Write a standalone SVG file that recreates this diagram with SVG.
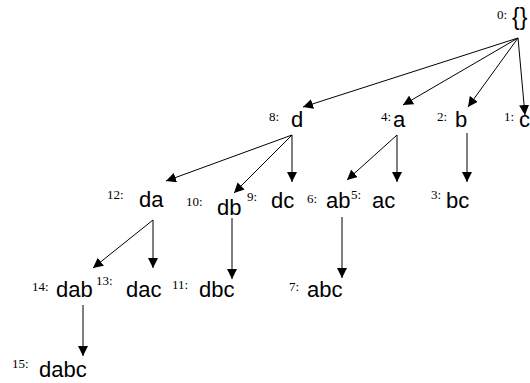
<svg xmlns="http://www.w3.org/2000/svg" width="530" height="383" viewBox="0 0 530 383">
<style>
.n{font-family:"Liberation Sans",Arial,sans-serif;font-size:22px;fill:#000}
.k{font-family:"Liberation Serif","Times New Roman",serif;font-size:13px;fill:#000}
.e{stroke:#000;stroke-width:1;fill:none;marker-end:url(#ah)}
</style>
<defs>
<marker id="ah" viewBox="0 0 10 10" refX="10" refY="5" markerWidth="10" markerHeight="10" markerUnits="userSpaceOnUse" orient="auto">
<path d="M0,0 L10,5 L0,10 z" fill="#000"/>
</marker>
</defs>
<rect width="530" height="383" fill="#fff"/>
<g id="edges">
<line class="e" x1="518" y1="38" x2="303" y2="107"/>
<line class="e" x1="518" y1="38" x2="403" y2="105"/>
<line class="e" x1="518" y1="38" x2="468" y2="107"/>
<line class="e" x1="518" y1="38" x2="525" y2="115"/>
<line class="e" x1="292" y1="135" x2="166" y2="181"/>
<line class="e" x1="292" y1="135" x2="234" y2="193"/>
<line class="e" x1="292" y1="135" x2="292" y2="182"/>
<line class="e" x1="397" y1="135" x2="347" y2="180"/>
<line class="e" x1="397" y1="135" x2="397" y2="182"/>
<line class="e" x1="467" y1="133" x2="467" y2="182"/>
<line class="e" x1="153" y1="220" x2="93" y2="268"/>
<line class="e" x1="153" y1="220" x2="153" y2="268"/>
<line class="e" x1="232" y1="218" x2="232" y2="279"/>
<line class="e" x1="342" y1="217" x2="342" y2="278"/>
<line class="e" x1="83" y1="305" x2="83" y2="356"/>
</g>
<g id="n0"><text class="k" x="497" y="19">0:</text><text class="n" x="512" y="25" style="font-size:23px">{}</text></g>
<g id="n8"><text class="k" x="269" y="121">8:</text><text class="n" x="291" y="127">d</text></g>
<g id="n4"><text class="k" x="381" y="121">4:</text><text class="n" x="393" y="127">a</text></g>
<g id="n2"><text class="k" x="437" y="121">2:</text><text class="n" x="455" y="127">b</text></g>
<g id="n1"><text class="k" x="504" y="121">1:</text><text class="n" x="519" y="127">c</text></g>
<g id="n12"><text class="k" x="107" y="199">12:</text><text class="n" x="139" y="207">da</text></g>
<g id="n10"><text class="k" x="186" y="206">10:</text><text class="n" x="217" y="215">db</text></g>
<g id="n9"><text class="k" x="247" y="201">9:</text><text class="n" x="271" y="208">dc</text></g>
<g id="n6"><text class="k" x="307" y="203">6:</text><text class="n" x="326" y="208">ab</text></g>
<g id="n5"><text class="k" x="351" y="199">5:</text><text class="n" x="372" y="208">ac</text></g>
<g id="n3"><text class="k" x="431" y="199">3:</text><text class="n" x="446" y="208">bc</text></g>
<g id="n14"><text class="k" x="32" y="291">14:</text><text class="n" x="56" y="297">dab</text></g>
<g id="n13"><text class="k" x="96" y="285">13:</text><text class="n" x="126" y="297">dac</text></g>
<g id="n11"><text class="k" x="172" y="289">11:</text><text class="n" x="199" y="297">dbc</text></g>
<g id="n7"><text class="k" x="289" y="291">7:</text><text class="n" x="307" y="297">abc</text></g>
<g id="n15"><text class="k" x="12" y="368">15:</text><text class="n" x="39" y="377">dabc</text></g>
</svg>
